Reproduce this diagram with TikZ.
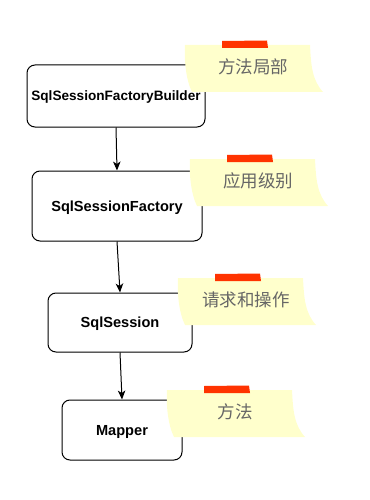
\documentclass[tikz,border=0pt]{standalone}
\usepackage{fontspec}
\setmainfont{Liberation Sans}
\newfontfamily\cjk{Noto Sans CJK SC}
\usetikzlibrary{arrows.meta}
\definecolor{notefill}{HTML}{FFFFCC}
\definecolor{tapecol}{HTML}{FF3300}
\definecolor{notetext}{HTML}{666666}
\tikzset{
  box/.style={draw=black, line width=1pt, rounded corners=8pt, fill=white,
    font=\bfseries\fontsize{14.6}{16}\selectfont, inner sep=0pt, text depth=0pt},
  conn/.style={line width=1pt, -{Stealth[length=9pt,width=7.5pt,inset=2.5pt]}},
  notetxt/.style={font=\cjk\fontsize{17.5}{20}\selectfont, text=notetext, inner sep=0pt},
}
\newcommand{\stickynote}[4]{%
  \begin{scope}[shift={(#1,#2)}]
    \fill[notefill] (0,0) -- (125,0) .. controls (126,20) and (127,35) .. (138,47)
      -- (7,47) .. controls (1,35) and (-1,15) .. (0,0) -- cycle;
    \fill[tapecol] (37,-4) -- (82,-4.5) -- (83,3) -- (37,3) -- cycle;
    \node[notetxt] (#3) at (68,22) {#4};
  \end{scope}}
\begin{document}
\begin{tikzpicture}[x=1pt,y=-1pt]
  \useasboundingbox (0,0) rectangle (369,500);
  \node[box, minimum width=178pt, minimum height=62pt,
    font=\bfseries\fontsize{13.6}{16}\selectfont] (b1) at (116,96) {SqlSessionFactoryBuilder};
  \node[box, minimum width=170pt, minimum height=70pt] (b2) at (117,206) {SqlSessionFactory};
  \node[box, minimum width=144pt, minimum height=59pt] (b3) at (120,322.5) {SqlSession};
  \node[box, minimum width=120pt, minimum height=60pt] (b4) at (122,430) {Mapper};
  \draw[conn] (b1.south) -- (b2.north);
  \draw[conn] (b2.south) -- (b3.north);
  \draw[conn] (b3.south) -- (b4.north);
  \stickynote{185}{45}{n1}{方法局部}
  \stickynote{190}{159}{n2}{应用级别}
  \stickynote{178}{278}{n3}{请求和操作}
  \stickynote{167}{390}{n4}{方法}
\end{tikzpicture}
\end{document}
